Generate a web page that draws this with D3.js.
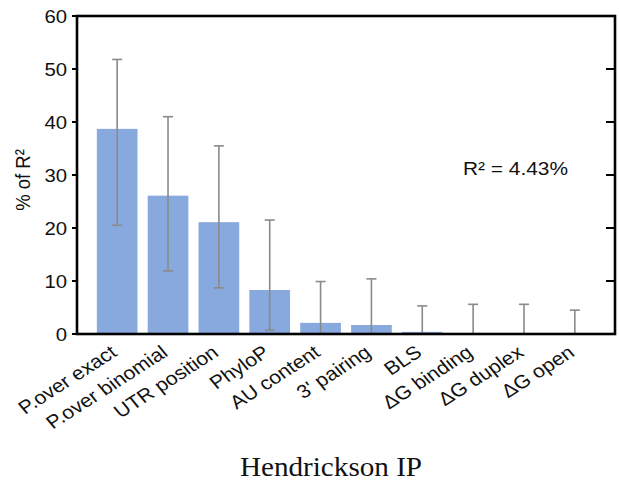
<!DOCTYPE html>
<html>
<head>
<meta charset="utf-8">
<script src="https://cdn.jsdelivr.net/npm/d3@7"></script>
<style>
  body { margin: 0; background: #fff; }
</style>
</head>
<body>
<div id="chart-area"></div>
<script>
// data
const categories = ["P.over exact", "P.over binomial", "UTR position", "PhyloP", "AU content",
    "3' pairing", "BLS", "\u0394G binding", "\u0394G duplex", "\u0394G open"];
const values = [38.7, 26.1, 21.1, 8.3, 2.1, 1.7, 0.4, 0.1, 0.1, 0];
const errHigh = [51.8, 41.0, 35.5, 21.5, 9.9, 10.4, 5.3, 5.6, 5.6, 4.5];
const errLow = [20.5, 11.9, 8.7, 0.7, 0, 0, 0, 0, 0, 0];
const yTicks = [0, 10, 20, 30, 40, 50, 60];

const W = 619, H = 484;
const PLOT = { LEFT: 77, RIGHT: 615, TOP: 16, BOTTOM: 334 };
const SX = 1.13; // glyphs in the picture are a bit wide
const SANS = "'Liberation Sans', Arial, sans-serif";

const svg = d3.select("#chart-area").append("svg")
    .attr("width", W)
    .attr("height", H)
    .attr("font-family", SANS);

const x = d3.scaleBand()
    .domain(categories)
    .range([PLOT.LEFT, PLOT.RIGHT])
    .paddingInner(0.2)
    .paddingOuter(0.39);

const y = d3.scaleLinear()
    .domain([0, 60])
    .range([PLOT.BOTTOM, PLOT.TOP]);

svg.append("clipPath").attr("id", "clip")
    .append("rect")
    .attr("x", PLOT.LEFT).attr("y", PLOT.TOP)
    .attr("width", PLOT.RIGHT - PLOT.LEFT)
    .attr("height", PLOT.BOTTOM - PLOT.TOP);

const plot = svg.append("g").attr("clip-path", "url(#clip)");

// bars
plot.selectAll("rect.bar")
    .data(categories)
    .enter().append("rect")
    .attr("class", "bar")
    .attr("x", d => x(d))
    .attr("width", x.bandwidth())
    .attr("y", (d, i) => y(values[i]))
    .attr("height", (d, i) => y(0) - y(values[i]))
    .attr("fill", "#87a9de");

// error bars
const errG = plot.selectAll("g.err")
    .data(categories)
    .enter().append("g")
    .attr("class", "err")
    .attr("stroke", "#8a8a8a")
    .attr("stroke-width", 1.6);

const cx = d => x(d) + x.bandwidth() / 2;
errG.append("line")
    .attr("x1", cx).attr("x2", cx)
    .attr("y1", (d, i) => y(errLow[i]))
    .attr("y2", (d, i) => y(errHigh[i]));
errG.append("line")
    .attr("x1", d => cx(d) - 5).attr("x2", d => cx(d) + 5)
    .attr("y1", (d, i) => y(errHigh[i]))
    .attr("y2", (d, i) => y(errHigh[i]));
errG.filter((d, i) => errLow[i] > 0).append("line")
    .attr("x1", d => cx(d) - 5).attr("x2", d => cx(d) + 5)
    .attr("y1", (d, i) => y(errLow[i]))
    .attr("y2", (d, i) => y(errLow[i]));

// y ticks: outward on the left, inward on the right
const yAxis = svg.append("g").attr("class", "y axis");
yAxis.selectAll("line.lt")
    .data(yTicks)
    .enter().append("line")
    .attr("x1", PLOT.LEFT - 5).attr("x2", PLOT.LEFT)
    .attr("y1", d => y(d)).attr("y2", d => y(d))
    .attr("stroke", "#000").attr("stroke-width", 2);
yAxis.selectAll("line.rt")
    .data(yTicks)
    .enter().append("line")
    .attr("x1", PLOT.RIGHT - 9).attr("x2", PLOT.RIGHT)
    .attr("y1", d => y(d)).attr("y2", d => y(d))
    .attr("stroke", "#000").attr("stroke-width", 2);
yAxis.selectAll("text")
    .data(yTicks)
    .enter().append("text")
    .attr("transform", d => `translate(${PLOT.LEFT - 10}, ${y(d) + 6.5}) scale(${SX}, 1)`)
    .attr("text-anchor", "end")
    .attr("font-size", 18)
    .attr("fill", "#111")
    .text(d => d);

// frame
svg.append("rect")
    .attr("x", PLOT.LEFT).attr("y", PLOT.TOP)
    .attr("width", PLOT.RIGHT - PLOT.LEFT)
    .attr("height", PLOT.BOTTOM - PLOT.TOP)
    .attr("fill", "none")
    .attr("stroke", "#000")
    .attr("stroke-width", 2.6);

// x labels, rotated
svg.append("g").attr("class", "x axis")
    .selectAll("text")
    .data(categories)
    .enter().append("text")
    .attr("transform", d => `translate(${cx(d) + 1}, 355) scale(${SX}, 1) rotate(-36)`)
    .attr("text-anchor", "end")
    .attr("font-size", 18.8)
    .attr("fill", "#111")
    .text(d => d);

// y label
svg.append("text")
    .attr("transform", `translate(30, 180) scale(${SX}, 1) rotate(-90)`)
    .attr("text-anchor", "middle")
    .attr("font-size", 18.5)
    .attr("fill", "#111")
    .text("% of R\u00b2");

// annotation
svg.append("text")
    .attr("transform", `translate(463, 175) scale(${SX}, 1)`)
    .attr("font-size", 18.5)
    .attr("fill", "#111")
    .text("R\u00b2 = 4.43%");

// x title
svg.append("text")
    .attr("transform", `translate(331, 476) scale(1.08, 1)`)
    .attr("text-anchor", "middle")
    .attr("font-family", "'Liberation Serif', 'DejaVu Serif', serif")
    .attr("font-size", 27)
    .attr("fill", "#111")
    .text("Hendrickson IP");
</script>
</body>
</html>
